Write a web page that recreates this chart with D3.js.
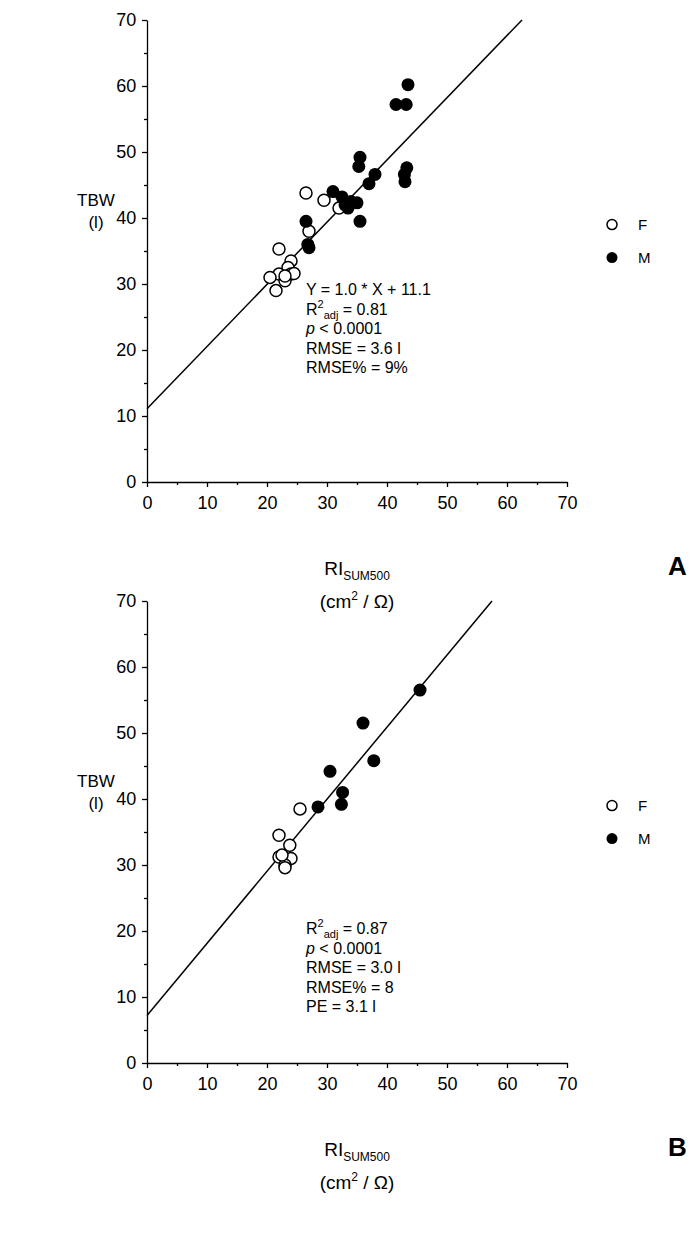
<!DOCTYPE html><html><head><meta charset="utf-8">
<script src="https://cdn.jsdelivr.net/npm/d3@7"></script>
<style>body{margin:0;background:#fff}text{font-family:Arial,"Liberation Sans",sans-serif}</style></head><body>
<svg id="c" width="698" height="1252"></svg>
<script>
const ticks=[0,10,20,30,40,50,60,70];
const aM=[[43.5,60.2],[41.5,57.2],[43.2,57.2],[35.5,49.2],[35.3,47.8],[38,46.6],[37,45.2],[43.3,47.6],[42.9,46.6],[43,45.5],[31,44],[32.5,43.2],[33,42],[34,42.5],[35,42.3],[33.5,41.5],[35.5,39.5],[26.5,39.5],[26.8,36],[27,35.5]];
const aF=[[26.5,43.8],[29.5,42.7],[27,38],[22,35.3],[24,33.5],[23.5,32.5],[24,31.5],[22,31.5],[20.5,31],[23,30.5],[21.5,29],[24.5,31.6],[23,31.2],[32,41.5]];
const aLine=[[0,11.1],[62.5,70]];
const aText=["Y = 1.0 * X + 11.1","R2adj = 0.81","p < 0.0001","RMSE = 3.6 l","RMSE% = 9%"];
const bM=[[45.5,56.5],[36,51.5],[37.8,45.8],[30.5,44.2],[32.6,41],[32.4,39.2],[28.5,38.8]];
const bF=[[25.5,38.5],[22,34.5],[23.8,33],[22,31.2],[24,31],[23,30],[22.5,31.5],[23,29.6]];
const bLine=[[0,7.2],[57.5,70]];
const bText=["R2adj = 0.87","p < 0.0001","RMSE = 3.0 l","RMSE% = 8","PE = 3.1 l"];
const svg=d3.select("#c");
function panel(top,M,F,line,texts,letter){
 const x=d3.scaleLinear([0,70],[147,567]), y=d3.scaleLinear([0,70],[top+462,top]);
 const g=svg.append("g");
 g.append("g").attr("transform",`translate(0,${top+462})`).call(d3.axisBottom(x).tickValues(ticks).tickSize(5).tickSizeOuter(0)).call(a=>a.selectAll("text").attr("font-size",18).attr("dy","1.05em"));
 g.append("g").attr("transform",`translate(147,0)`).call(d3.axisLeft(y).tickValues(ticks).tickSize(5).tickSizeOuter(0)).call(a=>a.selectAll("text").attr("font-size",18).attr("dx","-0.15em"));
 g.append("g").attr("transform",`translate(0,${top+462})`).call(d3.axisBottom(x).tickValues(d3.range(5,70,10)).tickSize(3).tickFormat("")).select(".domain").remove();
 g.append("g").attr("transform",`translate(147,0)`).call(d3.axisLeft(y).tickValues(d3.range(5,70,10)).tickSize(3).tickFormat("")).select(".domain").remove();
 g.selectAll(".domain,.tick line").attr("stroke","#000").attr("stroke-width",1.3);
 g.append("line").attr("x1",x(line[0][0])).attr("y1",y(line[0][1])).attr("x2",x(line[1][0])).attr("y2",y(line[1][1])).attr("stroke","#000").attr("stroke-width",1.5);
 g.selectAll(".f").data(F).join("circle").attr("cx",d=>x(d[0])).attr("cy",d=>y(d[1])).attr("r",6).attr("fill","#fff").attr("stroke","#000").attr("stroke-width",1.5);
 g.selectAll(".m").data(M).join("circle").attr("cx",d=>x(d[0])).attr("cy",d=>y(d[1])).attr("r",6.5).attr("fill","#000");
 g.append("text").attr("x",96).attr("y",y(40)-12).attr("text-anchor","middle").attr("font-size",17).text("TBW");
 g.append("text").attr("x",96).attr("y",y(40)+10).attr("text-anchor","middle").attr("font-size",17).text("(l)");
 g.append("circle").attr("cx",612).attr("cy",y(39)).attr("r",5).attr("fill","#fff").attr("stroke","#000").attr("stroke-width",1.5);
 g.append("text").attr("x",638).attr("y",y(39)+5).attr("font-size",15).text("F");
 g.append("circle").attr("cx",612).attr("cy",y(34)).attr("r",5.5).attr("fill","#000");
 g.append("text").attr("x",638).attr("y",y(34)+5).attr("font-size",15).text("M");
 const tx=x(26.5);
 texts.forEach((t,i)=>{
  const el=g.append("text").attr("x",tx).attr("y",y(letter==="A"?28.3:19.5)+i*19.5).attr("font-size",16);
  if(t.startsWith("R2adj")){el.append("tspan").text("R");el.append("tspan").attr("font-size",11).attr("dy",-7).text("2");el.append("tspan").attr("font-size",11).attr("dy",11).text("adj");el.append("tspan").attr("dy",-4).text(t.slice(5));}
  else if(t.startsWith("p ")){el.append("tspan").attr("font-style","italic").text("p");el.append("tspan").text(t.slice(1));}
  else el.text(t);
 });
 const lx=x(35);
 const l1=g.append("text").attr("x",lx).attr("y",top+555).attr("text-anchor","middle").attr("font-size",19);
 l1.append("tspan").text("RI");l1.append("tspan").attr("font-size",12).attr("dy",5).text("SUM500");
 const l2=g.append("text").attr("x",lx).attr("y",top+588).attr("text-anchor","middle").attr("font-size",19);
 l2.append("tspan").text("(cm");l2.append("tspan").attr("font-size",12).attr("dy",-8).text("2");l2.append("tspan").attr("dy",8).text(" / Ω)");
 g.append("text").attr("x",668).attr("y",top+555).attr("font-size",26).attr("font-weight","bold").text(letter);
}
panel(20,aM,aF,aLine,aText,"A");
panel(601,bM,bF,bLine,bText,"B");
</script></body></html>
